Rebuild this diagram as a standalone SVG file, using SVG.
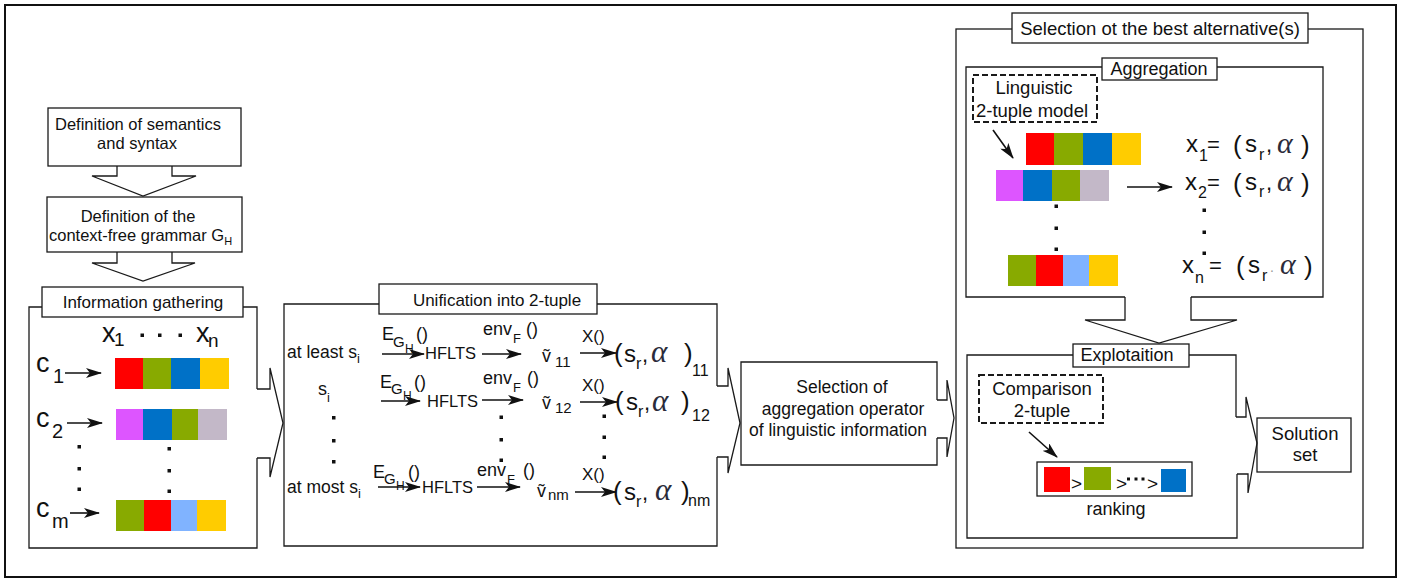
<svg xmlns="http://www.w3.org/2000/svg" width="1411" height="581" viewBox="0 0 1411 581">
<style>
.frame{fill:#fff;stroke:#111;stroke-width:2}
.box{fill:#fff;stroke:#1a1a1a;stroke-width:1.3}
.ln{fill:none;stroke:#1a1a1a;stroke-width:1.3}
.dash{fill:#fff;stroke:#1a1a1a;stroke-width:2;stroke-dasharray:6 3}
.arr{stroke:#111;stroke-width:1.6;fill:none;marker-end:url(#ah)}
.t{font-family:"Liberation Sans",Arial,sans-serif;fill:#111}
.m{text-anchor:middle}
.al{font-family:"Liberation Serif","Times New Roman",serif;font-style:italic;fill:#2b2b3a}
.dot{fill:#111}
.R{fill:#ff0000}.G{fill:#88aa00}.B{fill:#0071c7}.Y{fill:#ffcc00}.M{fill:#dd55ff}.L{fill:#c3b8c8}.LB{fill:#80b3ff}
</style>
<defs>
<marker id="ah" viewBox="0 0 16 10" refX="15" refY="5" markerWidth="16" markerHeight="10" markerUnits="userSpaceOnUse" orient="auto">
<path d="M0,0 L16,5 L0,10 L4,5 z" fill="#111"/>
</marker>
</defs>
<rect class="frame" x="5" y="5" width="1391" height="572"/>

<g id="def-semantics">
<rect class="box" x="48" y="108" width="193" height="58"/>
<text class="t m" x="138" y="130" font-size="16.5">Definition of semantics</text>
<text class="t m" x="137" y="149" font-size="16.5">and syntax</text>
</g>

<g id="def-grammar">
<rect class="box" x="47" y="197" width="195" height="55"/>
<text class="t m" x="138" y="222" font-size="16.5">Definition of the</text>
<text class="t" x="49" y="241" font-size="16.5">context-free grammar G<tspan font-size="11" dy="4">H</tspan></text>
</g>

<g id="info-gathering">
<path class="ln" d="M257,389 V307 H29 V548 H257 V458"/>
<rect class="box" x="42" y="287" width="201" height="30"/>
<text class="t m" x="143" y="308" font-size="17">Information gathering</text>
<text class="t" x="102" y="342" font-size="27">x</text>
<text class="t" x="114" y="346" font-size="19">1</text>
<rect class="dot" x="140.5" y="333.5" width="3.5" height="3.5"/>
<rect class="dot" x="158" y="333.5" width="3.5" height="3.5"/>
<rect class="dot" x="178.5" y="333.5" width="3.5" height="3.5"/>
<text class="t" x="196" y="342" font-size="27">x</text>
<text class="t" x="208" y="347" font-size="19">n</text>
<text class="t" x="36" y="372" font-size="27">c</text>
<text class="t" x="53" y="383" font-size="20">1</text>
<line class="arr" x1="65" y1="373" x2="101" y2="373"/>
<text class="t" x="36" y="427" font-size="27">c</text>
<text class="t" x="52" y="438" font-size="20">2</text>
<line class="arr" x1="67" y1="423" x2="102" y2="423"/>
<text class="t" x="36" y="517" font-size="27">c</text>
<text class="t" x="52" y="528" font-size="20">m</text>
<line class="arr" x1="70" y1="513" x2="99" y2="513"/>
<rect class="R" x="115" y="358" width="28" height="31"/><rect class="G" x="143" y="358" width="28" height="31"/><rect class="B" x="171" y="358" width="29" height="31"/><rect class="Y" x="200" y="358" width="29" height="31"/>
<rect class="M" x="116" y="409" width="27" height="31"/><rect class="B" x="143" y="409" width="29" height="31"/><rect class="G" x="172" y="409" width="26" height="31"/><rect class="L" x="198" y="409" width="29" height="31"/>
<rect class="G" x="116" y="500" width="28" height="31"/><rect class="R" x="144" y="500" width="27" height="31"/><rect class="LB" x="171" y="500" width="26" height="31"/><rect class="Y" x="197" y="500" width="29" height="31"/>
<rect class="dot" x="77.5" y="445" width="3.5" height="3.5"/>
<rect class="dot" x="77.5" y="467" width="3.5" height="3.5"/>
<rect class="dot" x="77.5" y="487.5" width="3.5" height="3.5"/>
<rect class="dot" x="167.5" y="447" width="3.5" height="3.5"/>
<rect class="dot" x="167.5" y="469" width="3.5" height="3.5"/>
<rect class="dot" x="167.5" y="489.5" width="3.5" height="3.5"/>
</g>

<g id="unification">
<path class="ln" d="M717,386 V304 H284 V546 H717 V457"/>
<rect class="box" x="379" y="284" width="218" height="30"/>
<text class="t m" x="497" y="306" font-size="17">Unification into 2-tuple</text>
<!-- row 1 -->
<text class="t" x="287" y="358" font-size="17.5">at least s<tspan font-size="13" dy="5">i</tspan></text>
<text class="t" font-size="18"><tspan x="382" y="340">E</tspan><tspan x="393" y="347" font-size="15">G</tspan><tspan x="405" y="353" font-size="12">H</tspan><tspan x="416" y="340">()</tspan></text>
<line class="arr" x1="382" y1="354" x2="424" y2="354"/>
<text class="t" x="425" y="359" font-size="16.5">HFLTS</text>
<text class="t" font-size="18"><tspan x="483" y="335">env</tspan><tspan x="513" y="343" font-size="13">F</tspan><tspan x="526" y="335">()</tspan></text>
<line class="arr" x1="482" y1="354" x2="521" y2="354"/>
<text class="t" font-size="18"><tspan x="542" y="362">ṽ</tspan><tspan x="555" y="367" font-size="15">11</tspan></text>
<text class="t" x="582" y="342" font-size="17">X()</text>
<line class="arr" x1="580" y1="353" x2="616" y2="353"/>
<text class="t" font-size="26"><tspan x="614" y="362">(</tspan><tspan x="624" y="362" font-size="24">s</tspan><tspan x="636" y="369" font-size="16">r</tspan><tspan x="642" y="362" font-size="22">,</tspan></text>
<text class="al" x="651" y="362" font-size="31">α</text>
<text class="t" font-size="26"><tspan x="684" y="362">)</tspan><tspan x="692" y="376" font-size="16">11</tspan></text>
<!-- row 2 -->
<text class="t" x="318" y="395" font-size="18">s<tspan font-size="13" dy="7">i</tspan></text>
<text class="t" font-size="18"><tspan x="380" y="388">E</tspan><tspan x="391" y="394" font-size="15">G</tspan><tspan x="403" y="400" font-size="12">H</tspan><tspan x="414" y="388">()</tspan></text>
<line class="arr" x1="381" y1="401" x2="420" y2="401"/>
<text class="t" x="427" y="407" font-size="16.5">HFLTS</text>
<text class="t" font-size="18"><tspan x="483" y="384">env</tspan><tspan x="513" y="392" font-size="13">F</tspan><tspan x="527" y="384">()</tspan></text>
<line class="arr" x1="482" y1="400" x2="523" y2="400"/>
<text class="t" font-size="18"><tspan x="542" y="409">ṽ</tspan><tspan x="555" y="413" font-size="15">12</tspan></text>
<text class="t" x="582" y="391" font-size="17">X()</text>
<line class="arr" x1="580" y1="402" x2="617" y2="402"/>
<text class="t" font-size="26"><tspan x="615" y="410">(</tspan><tspan x="626" y="410" font-size="24">s</tspan><tspan x="638" y="417" font-size="16">r</tspan><tspan x="644" y="410" font-size="22">,</tspan></text>
<text class="al" x="652" y="411" font-size="31">α</text>
<text class="t" font-size="26"><tspan x="681" y="410">)</tspan><tspan x="692" y="421" font-size="16">12</tspan></text>
<!-- dots -->
<rect class="dot" x="332" y="416" width="3.5" height="3.5"/>
<rect class="dot" x="332" y="439" width="3.5" height="3.5"/>
<rect class="dot" x="332" y="460" width="3.5" height="3.5"/>
<rect class="dot" x="499.5" y="415.5" width="3.5" height="3.5"/>
<rect class="dot" x="499.5" y="438" width="3.5" height="3.5"/>
<rect class="dot" x="499.5" y="458.5" width="3.5" height="3.5"/>
<rect class="dot" x="602.5" y="414.5" width="3.5" height="3.5"/>
<rect class="dot" x="602.5" y="435.5" width="3.5" height="3.5"/>
<rect class="dot" x="602.5" y="455.5" width="3.5" height="3.5"/>
<!-- row 3 -->
<text class="t" x="287" y="493" font-size="17.5">at most s<tspan font-size="13" dy="5">i</tspan></text>
<text class="t" font-size="18"><tspan x="373" y="478">E</tspan><tspan x="384" y="484" font-size="15">G</tspan><tspan x="396" y="490" font-size="12">H</tspan><tspan x="408" y="478">()</tspan></text>
<line class="arr" x1="378" y1="487" x2="420" y2="487"/>
<text class="t" x="422" y="493" font-size="16.5">HFLTS</text>
<text class="t" font-size="18"><tspan x="477" y="476">env</tspan><tspan x="507" y="484" font-size="13">F</tspan><tspan x="523" y="476">()</tspan></text>
<line class="arr" x1="477" y1="487" x2="520" y2="487"/>
<text class="t" font-size="18"><tspan x="537" y="497">ṽ</tspan><tspan x="548" y="500" font-size="15">nm</tspan></text>
<text class="t" x="582" y="480" font-size="17">X()</text>
<line class="arr" x1="575" y1="492" x2="616" y2="492"/>
<text class="t" font-size="26"><tspan x="613" y="500">(</tspan><tspan x="624" y="500" font-size="24">s</tspan><tspan x="636" y="507" font-size="16">r</tspan><tspan x="642" y="500" font-size="22">,</tspan></text>
<text class="al" x="655" y="500" font-size="31">α</text>
<text class="t" font-size="26"><tspan x="681" y="500">)</tspan><tspan x="688" y="506" font-size="16">nm</tspan></text>
</g>

<g id="selection-operator">
<path class="ln" d="M937,400 V362 H741 V465 H937 V438"/>
<text class="t m" x="842" y="393" font-size="17.5">Selection of</text>
<text class="t m" x="843" y="415" font-size="17.5">aggregation operator</text>
<text class="t m" x="838" y="436" font-size="17.5">of linguistic information</text>
</g>

<g id="best-alternatives">
<rect class="ln" x="956" y="29" width="407" height="519"/>
<rect class="box" x="1012" y="13" width="296" height="30"/>
<text class="t m" x="1160" y="35" font-size="18.5">Selection ot the best alternative(s)</text>
</g>

<g id="aggregation">
<path class="ln" d="M1125,297 H966 V67 H1323 V297 H1191"/>
<rect class="box" x="1102" y="58" width="115" height="22"/>
<text class="t m" x="1159" y="75" font-size="18">Aggregation</text>
<rect class="dash" x="973" y="75" width="124" height="47"/>
<text class="t m" x="1034" y="94" font-size="18.5">Linguistic</text>
<text class="t m" x="1032" y="117" font-size="18.5">2-tuple model</text>
<line class="arr" x1="993" y1="130" x2="1013" y2="158"/>
<rect class="R" x="1026" y="133" width="28" height="32"/><rect class="G" x="1054" y="133" width="29" height="32"/><rect class="B" x="1083" y="133" width="29" height="32"/><rect class="Y" x="1112" y="133" width="29" height="32"/>
<rect class="M" x="996" y="170" width="27" height="31"/><rect class="B" x="1023" y="170" width="29" height="31"/><rect class="G" x="1052" y="170" width="28" height="31"/><rect class="L" x="1080" y="170" width="29" height="31"/>
<rect class="G" x="1008" y="255" width="28" height="31"/><rect class="R" x="1036" y="255" width="27" height="31"/><rect class="LB" x="1063" y="255" width="26" height="31"/><rect class="Y" x="1089" y="255" width="29" height="31"/>
<rect class="dot" x="1054.5" y="204.5" width="3.5" height="3.5"/>
<rect class="dot" x="1054.5" y="226.5" width="3.5" height="3.5"/>
<rect class="dot" x="1054.5" y="247.5" width="3.5" height="3.5"/>
<line class="arr" x1="1127" y1="187" x2="1172" y2="187"/>
<text class="t" font-size="24"><tspan x="1186" y="152">x</tspan><tspan x="1199" y="161" font-size="16">1</tspan><tspan x="1207" y="152" font-size="22">=</tspan><tspan x="1233" y="154" font-size="26">(</tspan><tspan x="1245" y="152">s</tspan><tspan x="1259" y="160" font-size="16">r</tspan><tspan x="1266" y="152" font-size="22">,</tspan></text>
<text class="al" x="1277" y="153" font-size="30">α</text>
<text class="t" x="1301" y="154" font-size="26">)</text>
<text class="t" font-size="24"><tspan x="1185" y="190">x</tspan><tspan x="1198" y="198" font-size="16">2</tspan><tspan x="1207" y="190" font-size="22">=</tspan><tspan x="1233" y="192" font-size="26">(</tspan><tspan x="1245" y="190">s</tspan><tspan x="1259" y="197" font-size="16">r</tspan><tspan x="1266" y="190" font-size="22">,</tspan></text>
<text class="al" x="1277" y="191" font-size="30">α</text>
<text class="t" x="1301" y="192" font-size="26">)</text>
<rect class="dot" x="1202.5" y="208.5" width="3.5" height="3.5"/>
<rect class="dot" x="1202.5" y="230.5" width="3.5" height="3.5"/>
<rect class="dot" x="1202.5" y="251.5" width="3.5" height="3.5"/>
<text class="t" font-size="24"><tspan x="1182" y="273">x</tspan><tspan x="1195" y="283" font-size="16">n</tspan><tspan x="1209" y="273" font-size="22">=</tspan><tspan x="1236" y="275" font-size="26">(</tspan><tspan x="1248" y="273">s</tspan><tspan x="1262" y="281" font-size="16">r</tspan><tspan x="1270" y="272" font-size="14" fill="#999">.</tspan></text>
<text class="al" x="1280" y="274" font-size="30">α</text>
<text class="t" x="1304" y="275" font-size="26">)</text>
</g>

<g id="exploitation">
<path class="ln" d="M1236,417 V355 H967 V538 H1237 V474"/>
<rect class="box" x="1073" y="344" width="116" height="23"/>
<text class="t m" x="1127" y="361" font-size="18">Explotaition</text>
<rect class="dash" x="979" y="375" width="124" height="48"/>
<text class="t m" x="1042" y="395" font-size="18.5">Comparison</text>
<text class="t m" x="1042" y="417" font-size="18.5">2-tuple</text>
<line class="arr" x1="1029" y1="432" x2="1057" y2="457"/>
<rect class="box" x="1037" y="462" width="155" height="34" stroke-width="2.2"/>
<rect class="R" x="1044" y="467" width="26" height="25"/>
<text class="t" x="1071" y="490" font-size="19">&gt;</text>
<rect class="G" x="1084" y="467" width="27" height="23"/>
<text class="t" x="1116" y="490" font-size="19">&gt;</text>
<rect class="dot" x="1127" y="477.5" width="3" height="3"/>
<rect class="dot" x="1134.5" y="477.5" width="3" height="3"/>
<rect class="dot" x="1141.5" y="477.5" width="3" height="3"/>
<text class="t" x="1147" y="490" font-size="19">&gt;</text>
<rect class="B" x="1161" y="469" width="25" height="23"/>
<text class="t m" x="1116" y="515" font-size="18">ranking</text>
</g>

<g id="solution-set">
<rect class="box" x="1257" y="418" width="94" height="54"/>
<text class="t m" x="1305" y="440" font-size="18.5">Solution</text>
<text class="t m" x="1305" y="461" font-size="18.5">set</text>
</g>

<g id="connectors">
<path class="ln" d="M117,166 V176 H92 L143,196 L196,176 H172 V166"/>
<path class="ln" d="M117,252 V263 H92 L143,281 L195,263 H172 V252"/>
<path class="ln" d="M257,389 H270 V368 L283,423 L270,477 V458 H257"/>
<path class="ln" d="M717,386 H728 V368 L740,423 L728,473 V457 H717"/>
<path class="ln" d="M937,400 H947 V380 L954,418 L947,457 V438 H937"/>
<path class="ln" d="M1125,297 V320 H1085 L1159,343 L1237,320 H1191 V297"/>
<path class="ln" d="M1236,417 H1246 V397 L1257,443 L1248,493 V474 H1237"/>
</g>
</svg>
